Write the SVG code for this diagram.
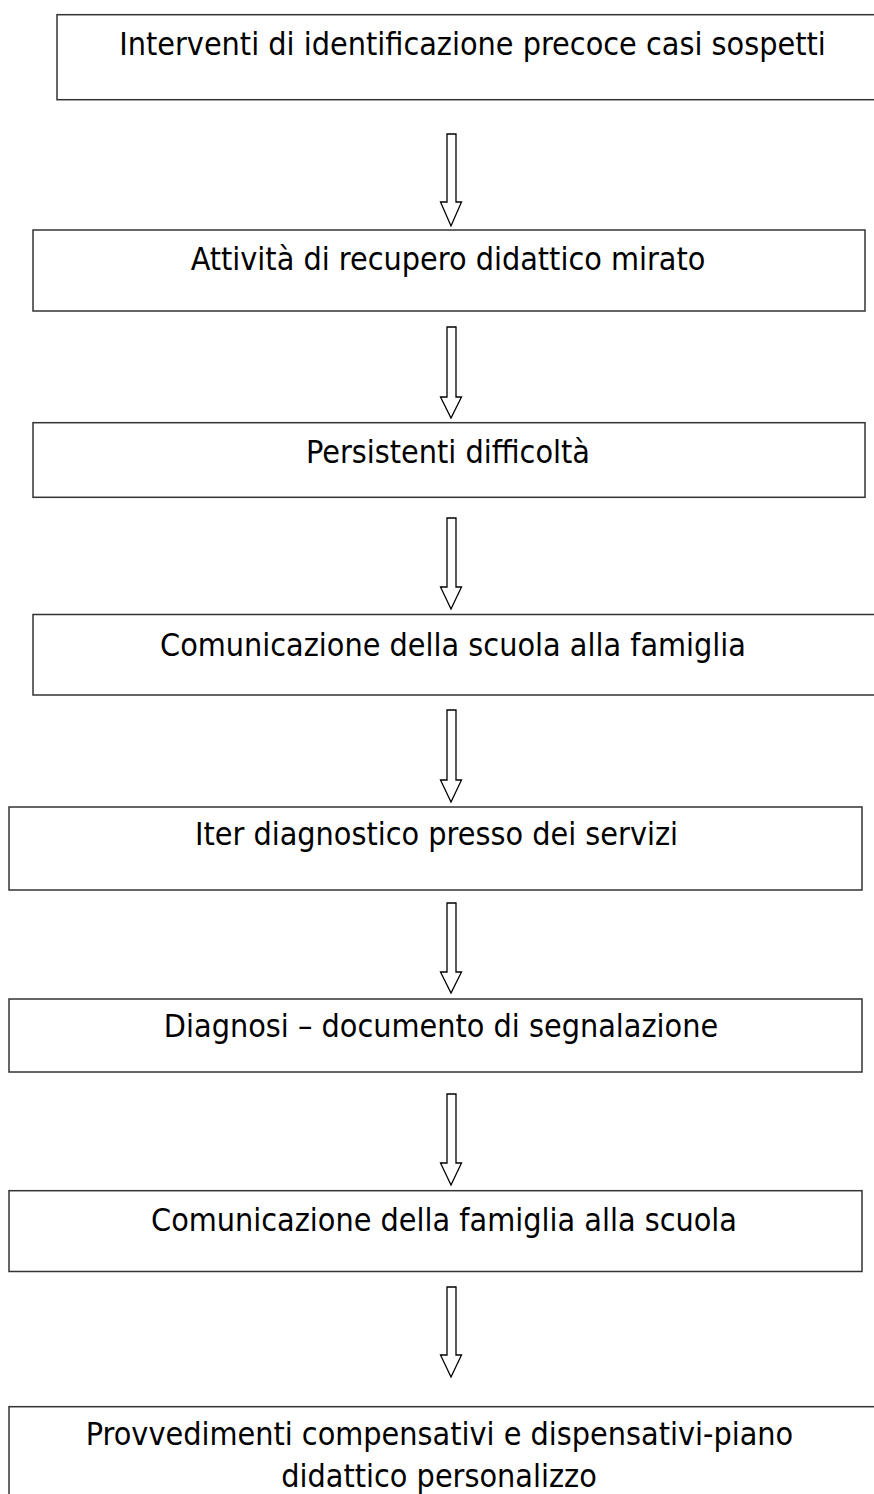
<svg xmlns="http://www.w3.org/2000/svg" width="874" height="1494" viewBox="0 0 874 1494">
<style>
.box{fill:#fff;stroke:#333;stroke-width:1.5}
.t{font-family:"DejaVu Sans Condensed","DejaVu Sans",sans-serif;font-stretch:condensed;font-size:32px;fill:#000;text-anchor:middle}
.arr{fill:#fff;stroke:#000;stroke-width:1.3;stroke-linejoin:miter}
</style>
<rect width="874" height="1494" fill="#fff"/>
<g id="connectors">
<path class="arr" d="M447,134 H456 V202 H461.5 L451,226 L440.5,202 H447 Z"/>
<path class="arr" d="M447,327 H456 V397 H461.5 L451,418 L440.5,397 H447 Z"/>
<path class="arr" d="M447,518 H456 V587 H461.5 L451,609 L440.5,587 H447 Z"/>
<path class="arr" d="M447,710 H456 V780 H461.5 L451,802 L440.5,780 H447 Z"/>
<path class="arr" d="M447,903 H456 V972 H461.5 L451,993 L440.5,972 H447 Z"/>
<path class="arr" d="M447,1094 H456 V1163 H461.5 L451,1185 L440.5,1163 H447 Z"/>
<path class="arr" d="M447,1287 H456 V1355 H461.5 L451,1377 L440.5,1355 H447 Z"/>
</g>
<g id="n1"><rect class="box" x="57" y="14.7" width="840" height="85"/><text class="t" x="472.5" y="55">Interventi di identificazione precoce casi sospetti</text></g>
<g id="n2"><rect class="box" x="33" y="230" width="832" height="81"/><text class="t" x="448" y="270">Attività di recupero didattico mirato</text></g>
<g id="n3"><rect class="box" x="33" y="422.7" width="832" height="74.6"/><text class="t" x="448" y="463.3">Persistenti difficoltà</text></g>
<g id="n4"><rect class="box" x="33" y="614.5" width="860" height="80.5"/><text class="t" x="453" y="655.5">Comunicazione della scuola alla famiglia</text></g>
<g id="n5"><rect class="box" x="9" y="807" width="853" height="83"/><text class="t" x="436.5" y="845">Iter diagnostico presso dei servizi</text></g>
<g id="n6"><rect class="box" x="9" y="999" width="853" height="73"/><text class="t" x="441" y="1037.3">Diagnosi – documento di segnalazione</text></g>
<g id="n7"><rect class="box" x="9" y="1190.7" width="853" height="80.8"/><text class="t" x="444" y="1230.7">Comunicazione della famiglia alla scuola</text></g>
<g id="n8"><rect class="box" x="9" y="1406.7" width="880" height="100"/><text class="t" x="439.5" y="1445">Provvedimenti compensativi e dispensativi-piano</text><text class="t" x="439" y="1486.5">didattico personalizzo</text></g>
</svg>
